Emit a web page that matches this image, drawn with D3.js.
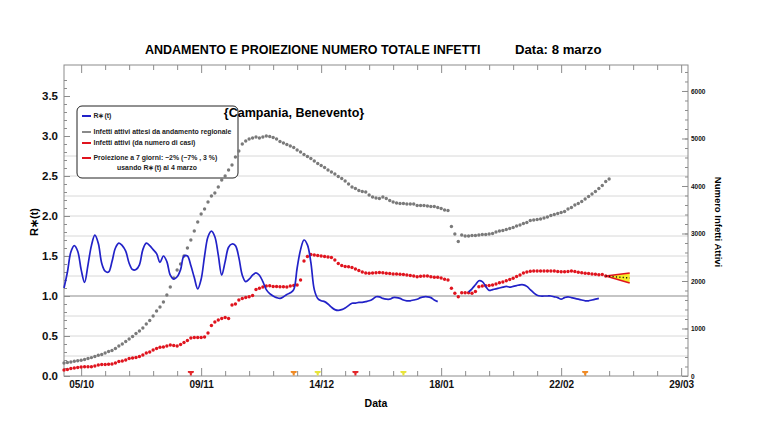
<!DOCTYPE html>
<html>
<head>
<meta charset="utf-8">
<script src="https://cdn.jsdelivr.net/npm/d3@7"></script>
<style>
  body { margin: 0; background: #fff; }
  svg { font-family: "Liberation Sans", Arial, sans-serif; }
  .axis path { display: none; }
  .axis line { stroke: #8c8c8c; }
  .axis text { font-weight: bold; fill: #111; }
</style>
</head>
<body>
<svg id="chart" width="767" height="446"></svg>
<script>
// daily series, first day = startDate
var startDate = "2020-09-30";

// Infetti attivi attesi da andamento regionale (grey, right axis)
var infettiAttesi = [
  274,284,295,309,322,333,347,368,387,410,
  436,453,484,516,537,579,632,674,726,779,
  831,895,947,1010,1095,1168,1263,1368,1452,1558,
  1705,1873,2063,2231,2358,2526,2694,2863,3052,3242,
  3410,3515,3663,3789,3852,3978,4126,4210,4336,4442,
  4610,4736,4884,4947,4989,5010,5031,5010,5031,5052,
  5041,5020,4989,4936,4905,4873,4842,4810,4757,4715,
  4663,4620,4578,4526,4473,4431,4389,4336,4294,4252,
  4199,4157,4105,4042,3978,3947,3905,3884,3873,3810,
  3768,3747,3736,3768,3736,3694,3663,3642,3631,3631,
  3621,3621,3621,3589,3589,3589,3579,3568,3568,3547,
  3526,3494,3484,3147,2989,2831,2968,2947,2947,2958,
  2958,2968,2979,2979,2989,3000,3031,3052,3063,3084,
  3105,3126,3158,3179,3210,3231,3273,3284,3294,3305,
  3326,3347,3379,3400,3421,3442,3463,3515,3547,3600,
  3631,3673,3726,3778,3831,3884,3947,4010,4094,4147
];

// Infetti attivi (da numero di casi) (red, right axis)
var infettiAttivi = [
  126,137,158,168,179,189,196,196,196,211,
  232,242,242,246,253,274,305,316,337,368,
  379,389,410,442,484,505,547,579,604,610,
  632,653,642,632,663,705,747,800,810,810,
  810,821,905,1063,1137,1179,1210,1231,1210,1495,
  1516,1600,1631,1652,1669,1695,1821,1846,1873,1895,
  1901,1884,1884,1880,1880,1873,1895,1905,1916,2021,
  2421,2515,2558,2547,2537,2526,2515,2505,2494,2442,
  2368,2326,2305,2301,2284,2252,2221,2189,2168,2162,
  2168,2174,2179,2174,2162,2158,2147,2147,2143,2137,
  2126,2116,2105,2090,2099,2105,2105,2088,2078,2078,
  2063,2036,2021,1846,1741,1669,1753,1753,1753,1741,
  1779,1880,1895,1901,1905,1916,1937,1964,1979,2006,
  2031,2057,2094,2126,2168,2189,2206,2210,2210,2210,
  2210,2210,2210,2210,2200,2196,2196,2200,2210,2200,
  2183,2174,2164,2158,2147,2141,2130,2137,2105
];

// R*(t), two pieces (blue, left axis)
var rtStartA = "2020-09-30";
var rtA = [
  1.10,1.30,1.55,1.63,1.56,1.33,1.17,1.39,1.63,1.76,
  1.66,1.41,1.31,1.30,1.43,1.60,1.66,1.63,1.56,1.41,
  1.33,1.33,1.39,1.58,1.66,1.63,1.58,1.53,1.42,1.50,
  1.43,1.26,1.21,1.24,1.33,1.50,1.50,1.38,1.23,1.09,
  1.21,1.50,1.74,1.81,1.74,1.51,1.26,1.43,1.61,1.65,
  1.63,1.48,1.26,1.18,1.21,1.26,1.29,1.26,1.18,1.08,
  1.03,1.00,0.98,0.97,0.99,1.02,1.04,1.08,1.35,1.58,
  1.70,1.64,1.42,1.08,0.97,0.94,0.93,0.90,0.86,0.83,
  0.82,0.83,0.85,0.88,0.91,0.91,0.92,0.92,0.93,0.94,
  0.96,0.99,0.99,0.97,0.96,0.96,0.98,0.98,0.97,0.95,
  0.94,0.94,0.95,0.96,0.98,0.99,0.99,0.98,0.95,0.93
];
var rtStartB = "2021-01-26";
var rtB = [
  1.05,1.09,1.14,1.19,1.18,1.12,1.07,1.08,1.09,1.10,
  1.11,1.12,1.11,1.12,1.13,1.14,1.14,1.12,1.08,1.04,
  1.01,1.00,1.00,1.00,1.00,0.99,0.98,0.96,0.98,0.99,
  0.98,0.97,0.96,0.95,0.94,0.94,0.95,0.96,0.97
];

// 7 day projection: centre, low, high
var projDates = ["2021-03-07", "2021-03-14"];
var projPct = [-0.02, -0.07, 0.03];

// zone markers on the time axis
var zoneDates = ["2020-11-06", "2020-12-06", "2020-12-13", "2020-12-24", "2021-01-07", "2021-03-01"];
var zoneColors = ["#e3262a", "#f08a24", "#e8e43a", "#e3262a", "#e8e43a", "#f08a24"];

var xTickDates = ["2020-10-05", "2020-11-09", "2020-12-14", "2021-01-18", "2021-02-22", "2021-03-29"];
var leftTicks = [0, 0.5, 1, 1.5, 2, 2.5, 3, 3.5];
var rightTicks = [0, 1000, 2000, 3000, 4000, 5000, 6000];
var gridValues = [0.25, 0.5, 0.75, 1.25, 1.5, 1.75, 2, 2.25, 2.5, 2.75];

var legendItems = [
  {label: "R\u2217(t)", color: "#2222c8"},
  {label: "Infetti attivi attesi da andamento regionale", color: "#8a8a8a"},
  {label: "Infetti attivi (da numero di casi)", color: "#e0141e"},
  {label: "Proiezione a 7 giorni: \u22122% (\u22127% , 3 %)", color: "#e0141e"}
];

var plotL = 64, plotR = 688, plotT = 65, plotB = 376;
var parse = d3.utcParse("%Y-%m-%d");
var svg = d3.select("#chart");

var x = d3.scaleUtc()
  .domain([parse("2020-09-30"), parse("2021-03-31")])
  .range([plotL, plotR]);
var yL = d3.scaleLinear().domain([0, 3.8875]).range([plotB, plotT]);
var yR = d3.scaleLinear().domain([0, 6547]).range([plotB, plotT]);

function series(start, values) {
  var s = parse(start);
  return values.map(function (v, i) { return {date: d3.utcDay.offset(s, i), value: v}; });
}

// grid
svg.append("g").selectAll("line").data(gridValues).enter().append("line")
  .attr("x1", plotL).attr("x2", plotR)
  .attr("y1", function (d) { return yL(d); }).attr("y2", function (d) { return yL(d); })
  .attr("stroke", "#d8d8d8").attr("stroke-width", 1);
svg.append("line")
  .attr("x1", plotL).attr("x2", plotR).attr("y1", yL(1)).attr("y2", yL(1))
  .attr("stroke", "#b2b2b2").attr("stroke-width", 1.6);

// frame
svg.append("rect")
  .attr("x", plotL).attr("y", plotT).attr("width", plotR - plotL).attr("height", plotB - plotT)
  .attr("fill", "none").attr("stroke", "#8c8c8c");

// axes
var majors = xTickDates.map(parse);
var mondays = d3.utcMonday.range(x.domain()[0], x.domain()[1]).filter(function (d) {
  return !majors.some(function (m) { return +m === +d; });
});

svg.append("g").attr("class", "axis").attr("transform", "translate(0," + plotB + ")")
  .call(d3.axisBottom(x).tickValues(majors).tickSizeInner(-8).tickSizeOuter(0)
    .tickPadding(5).tickFormat(d3.utcFormat("%d/%m")))
  .selectAll("text").style("font-size", "10px");
svg.append("g").attr("class", "axis").attr("transform", "translate(0," + plotB + ")")
  .call(d3.axisBottom(x).tickValues(mondays).tickSizeInner(-5).tickSizeOuter(0).tickFormat(""));
svg.append("g").attr("class", "axis").attr("transform", "translate(0," + plotT + ")")
  .call(d3.axisTop(x).tickValues(majors).tickSizeInner(-8).tickSizeOuter(0).tickFormat(""));
svg.append("g").attr("class", "axis").attr("transform", "translate(0," + plotT + ")")
  .call(d3.axisTop(x).tickValues(mondays).tickSizeInner(-5).tickSizeOuter(0).tickFormat(""));

svg.append("g").attr("class", "axis").attr("transform", "translate(" + plotL + ",0)")
  .call(d3.axisLeft(yL).tickValues(leftTicks).tickSizeInner(-6).tickSizeOuter(0)
    .tickPadding(6).tickFormat(d3.format(".1f")))
  .selectAll("text").style("font-size", "11.5px");
svg.append("g").attr("class", "axis").attr("transform", "translate(" + plotL + ",0)")
  .call(d3.axisLeft(yL).tickValues(d3.range(0, 38).map(function (i) { return i / 10; }))
    .tickSizeInner(-3).tickSizeOuter(0).tickFormat(""));

svg.append("g").attr("class", "axis").attr("transform", "translate(" + plotR + ",0)")
  .call(d3.axisRight(yR).tickValues(rightTicks).tickSizeInner(-6).tickSizeOuter(0)
    .tickPadding(3).tickFormat(d3.format("d")))
  .selectAll("text").style("font-size", "6.5px");
svg.append("g").attr("class", "axis").attr("transform", "translate(" + plotR + ",0)")
  .call(d3.axisRight(yR).tickValues(d3.range(0, 33).map(function (i) { return i * 200; }))
    .tickSizeInner(-3).tickSizeOuter(0).tickFormat(""));

// legend box (drawn under the data)
var lg = svg.append("g").attr("transform", "translate(77,106)");
lg.append("rect").attr("width", 161).attr("height", 72).attr("rx", 5)
  .attr("fill", "#fff").attr("stroke", "#222").attr("stroke-width", 1);
var rowY = [10, 26, 37, 52];
legendItems.forEach(function (it, i) {
  lg.append("line").attr("x1", 5).attr("x2", 14).attr("y1", rowY[i]).attr("y2", rowY[i])
    .attr("stroke", it.color).attr("stroke-width", 2);
  lg.append("text").attr("x", 16.5).attr("y", rowY[i] + 2.4)
    .style("font-size", "6.9px").style("font-weight", "bold").attr("fill", "#222")
    .text(it.label);
});
lg.append("text").attr("x", 80).attr("y", 63.5)
  .attr("text-anchor", "middle")
  .style("font-size", "6.9px").style("font-weight", "bold").attr("fill", "#222")
  .text("usando R\u2217(t) al 4 marzo");

// grey dots
svg.append("g").selectAll("circle").data(series(startDate, infettiAttesi)).enter().append("circle")
  .attr("cx", function (d) { return x(d.date); })
  .attr("cy", function (d) { return yR(d.value); })
  .attr("r", 1.7).attr("fill", "#7a7a7a");

// red dots
var redData = series(startDate, infettiAttivi);
svg.append("g").selectAll("circle").data(redData).enter().append("circle")
  .attr("cx", function (d) { return x(d.date); })
  .attr("cy", function (d) { return yR(d.value); })
  .attr("r", 1.7).attr("fill", "#e0141e");

// R*(t)
var rtLine = d3.line()
  .x(function (d) { return x(d.date); })
  .y(function (d) { return yL(d.value); })
  .curve(d3.curveCatmullRom.alpha(0.5));
[series(rtStartA, rtA), series(rtStartB, rtB)].forEach(function (s) {
  svg.append("path").datum(s).attr("d", rtLine)
    .attr("fill", "none").attr("stroke", "#2222c8").attr("stroke-width", 1.7);
});

// projection cone
var base = redData[redData.length - 1].value;
var p0 = parse(projDates[0]), p1 = parse(projDates[1]);
var cone = [[x(p0), yR(base)], [x(p1), yR(base * (1 + projPct[2]))], [x(p1), yR(base * (1 + projPct[1]))]];
svg.append("path").attr("d", "M" + cone.join("L") + "Z").attr("fill", "#f5ee2a").attr("stroke", "none");
[1, 2].forEach(function (k) {
  svg.append("line").attr("x1", cone[0][0]).attr("y1", cone[0][1])
    .attr("x2", cone[k][0]).attr("y2", cone[k][1])
    .attr("stroke", "#e0141e").attr("stroke-width", 1.4);
});
svg.append("line").attr("x1", x(p0)).attr("y1", yR(base))
  .attr("x2", x(p1)).attr("y2", yR(base * (1 + projPct[0])))
  .attr("stroke", "#111").attr("stroke-width", 1.4).attr("stroke-dasharray", "1.2,2.2");

// zone markers
svg.append("g").selectAll("path").data(zoneDates).enter().append("path")
  .attr("transform", function (d) { return "translate(" + x(parse(d)) + "," + (plotB - 0.5) + ")"; })
  .attr("d", "M-3,-4.5H3V-3L1,-2V0H-1V-2L-3,-3Z")
  .attr("fill", function (d, i) { return zoneColors[i]; });

// titles and labels
svg.append("text").attr("x", 145).attr("y", 54)
  .style("font-size", "12.5px").style("font-weight", "bold")
  .text("ANDAMENTO E PROIEZIONE NUMERO TOTALE INFETTI");
svg.append("text").attr("x", 515).attr("y", 54)
  .style("font-size", "13.2px").style("font-weight", "bold")
  .text("Data: 8 marzo");
svg.append("text").attr("x", 294).attr("y", 117).attr("text-anchor", "middle")
  .style("font-size", "12.5px").style("font-weight", "bold")
  .text("{Campania, Benevento}");
svg.append("text").attr("transform", "translate(38,222) rotate(-90)").attr("text-anchor", "middle")
  .style("font-size", "11px").style("font-weight", "bold")
  .text("R\u2217(t)");
svg.append("text").attr("transform", "translate(715,222) rotate(90)").attr("text-anchor", "middle")
  .style("font-size", "9.5px").style("font-weight", "bold")
  .text("Numero Infetti Attivi");
svg.append("text").attr("x", 376).attr("y", 407).attr("text-anchor", "middle")
  .style("font-size", "10.5px").style("font-weight", "bold")
  .text("Data");
</script>
</body>
</html>
